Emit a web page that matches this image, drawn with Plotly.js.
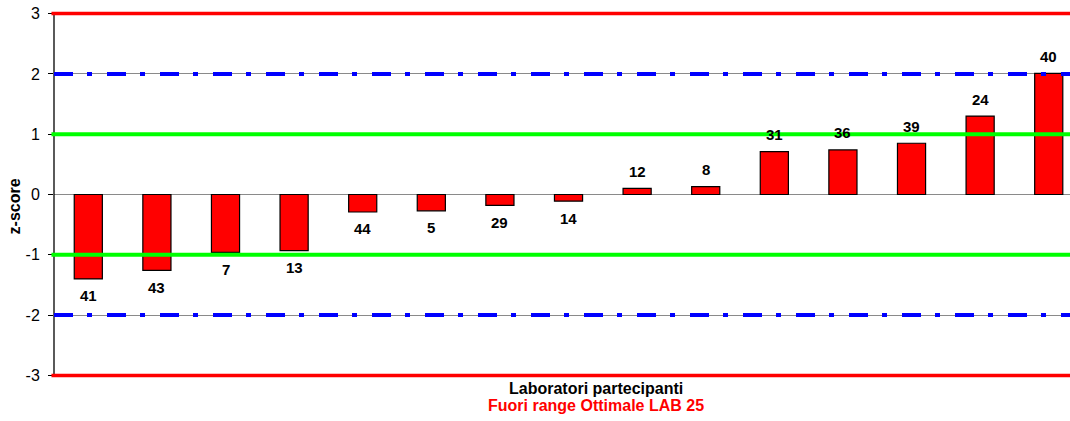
<!DOCTYPE html>
<html>
<head>
<meta charset="utf-8">
<script src="https://cdn.plot.ly/plotly-3.0.1.min.js"></script>
<style>html,body{margin:0;padding:0;background:#fff;}#chart{width:1070px;height:421px;}</style>
</head>
<body>
<div id="chart"></div>
<script>
// Laboratories (categories) and their z-scores
const labs = ['41','43','7','13','44','5','29','14','12','8','31','36','39','24','40'];
const zScores = [-1.40,-1.26,-0.96,-0.93,-0.29,-0.27,-0.18,-0.11,0.10,0.13,0.71,0.74,0.85,1.30,2.01];
const yTicks = [-3,-2,-1,0,1,2,3];
const limits = {action: 3, warning: 2, optimal: 1};
const xTitle = 'Laboratori partecipanti';
const subTitle = 'Fuori range Ottimale LAB 25';
const yTitle = 'z-score';

const FONT = 'Arial, "Liberation Sans", sans-serif';

const bars = {
  type: 'bar',
  x: labs,
  y: zScores,
  width: 0.41,
  marker: {color: '#ff0000', line: {color: '#000000', width: 1.2}},
  hoverinfo: 'x+y'
};

function hline(y, color, width, dash, x0) {
  return {type: 'line', xref: 'paper', yref: 'y', x0: x0, x1: 1, y0: y, y1: y,
          layer: 'above', line: {color: color, width: width, dash: dash}};
}

const shapes = [
  {type: 'line', xref: 'paper', yref: 'y', x0: 0, x1: 0, y0: -limits.action, y1: limits.action,
   layer: 'above', line: {color: '#000000', width: 1.3}},
  hline(limits.action, '#ff0000', 3.5, 'solid', -0.0025),
  hline(-limits.action, '#ff0000', 3.5, 'solid', -0.0025),
  hline(limits.warning, '#0000ff', 4, '19px,14px,5px,15px', 0),
  hline(-limits.warning, '#0000ff', 4, '19px,14px,5px,15px', 0),
  hline(limits.optimal, '#00ff00', 4, 'solid', -0.0025),
  hline(-limits.optimal, '#00ff00', 4, 'solid', -0.0025)
];

// data labels: category index on the x scale, value on the y scale
const annotations = labs.map((lab, i) => ({
  x: i, y: zScores[i], xref: 'x', yref: 'y',
  text: '<b>' + lab + '</b>', showarrow: false,
  yanchor: 'middle', xanchor: 'center',
  yshift: zScores[i] < 0 ? -17 : 17,
  font: {family: FONT, size: 15, color: '#000000'}
}));

annotations.push(
  {xref: 'paper', yref: 'paper', x: 0.5335, y: 0, yanchor: 'middle', xanchor: 'center',
   yshift: -9, showarrow: false, text: '<b>' + xTitle + '</b>',
   font: {family: FONT, size: 16, color: '#000000'}},
  {xref: 'paper', yref: 'paper', x: 0.5335, y: 0, yanchor: 'middle', xanchor: 'center',
   yshift: -26, showarrow: false, text: '<b>' + subTitle + '</b>',
   font: {family: FONT, size: 16, color: '#ff0000'}},
  {xref: 'paper', yref: 'paper', x: -0.0389, y: 0.469, yanchor: 'middle', xanchor: 'center',
   textangle: -90, showarrow: false, text: '<b>' + yTitle + '</b>',
   font: {family: FONT, size: 16, color: '#000000'}}
);

const layout = {
  width: 1070, height: 421,
  margin: {l: 54, r: 0, t: 10.4, b: 42.4, pad: 0},
  paper_bgcolor: '#ffffff', plot_bgcolor: '#ffffff',
  showlegend: false,
  font: {family: FONT, size: 16, color: '#000000'},
  xaxis: {
    type: 'category', range: [-0.5, 14.31], showticklabels: false,
    showgrid: false, zeroline: false, showline: false, ticks: '', fixedrange: true
  },
  yaxis: {
    range: [-3.06, 3.06], tickvals: yTicks, ticktext: yTicks.map(String),
    ticks: 'outside', ticklen: 5, tickcolor: '#000000', tickwidth: 1,
    ticklabelstandoff: 5,
    showgrid: true, gridcolor: '#8a8a8a', gridwidth: 1,
    zeroline: false, showline: false,
    tickfont: {family: FONT, size: 16, color: '#000000'}
  },
  shapes: shapes,
  annotations: annotations,
  bargap: 0.59
};

Plotly.newPlot('chart', [bars], layout, {displayModeBar: false, staticPlot: true});
</script>
</body>
</html>
